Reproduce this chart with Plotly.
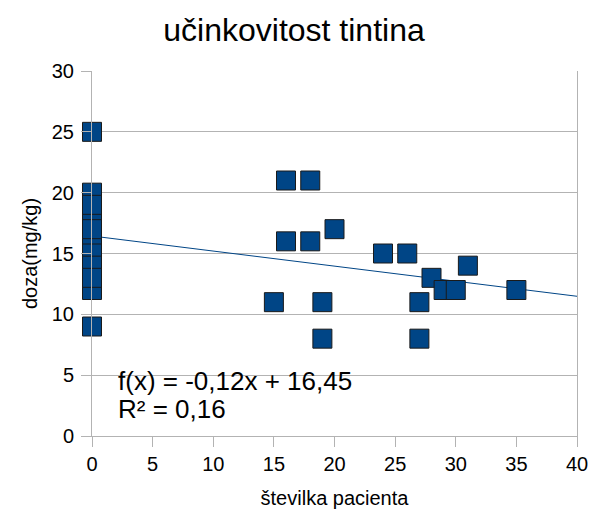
import numpy as np
import plotly.graph_objects as go

# data
patient = [0, 0, 0, 0, 0, 0, 0, 0, 0, 0, 0,
           16, 18, 16, 18, 20, 24, 26, 15, 19, 19, 27, 27, 28, 29, 30, 31, 35]
dose = [25, 9, 12, 18, 16, 20, 19, 17, 15, 14, 13,
        21, 21, 16, 16, 17, 15, 15, 11, 11, 8, 11, 8, 13, 12, 12, 14, 12]
x_ticks = [0, 5, 10, 15, 20, 25, 30, 35, 40]
y_ticks = [0, 5, 10, 15, 20, 25, 30]
title_text = "učinkovitost tintina"
x_title = "številka pacienta"
y_title = "doza(mg/kg)"
eq_text = "f(x) = -0,12x + 16,45"
r2_text = "R² = 0,16"

slope, intercept = np.polyfit(patient, dose, 1)
trend_x = [x_ticks[0], x_ticks[-1]]
trend_y = [intercept + slope * v for v in trend_x]

FONT = "Liberation Sans"
GRID = "#b3b3b3"
BLUE = "#004586"

fig = go.Figure()
fig.add_trace(go.Scatter(
    x=trend_x, y=trend_y, mode="lines",
    line=dict(color=BLUE, width=1), hoverinfo="skip", showlegend=False))
fig.add_trace(go.Scatter(
    x=patient, y=dose, mode="markers", cliponaxis=False,
    marker=dict(symbol="square", size=19, color=BLUE,
                line=dict(color="#1a1a1a", width=1)),
    showlegend=False))

ann_font = dict(family=FONT, size=26, color="black")
fig.update_layout(
    width=593, height=518,
    margin=dict(l=92, r=16, t=71, b=82, autoexpand=False),
    paper_bgcolor="white", plot_bgcolor="white",
    font=dict(family=FONT, size=20, color="black"),
    title=dict(text=title_text, x=294 / 593, xref="container", xanchor="center",
               y=1 - 30 / 518, yref="container", yanchor="middle",
               font=dict(family=FONT, size=32, color="black")),
    xaxis=dict(range=[x_ticks[0], x_ticks[-1]], tickvals=x_ticks,
               showgrid=False, zeroline=False, automargin=False,
               showline=True, linecolor=GRID, linewidth=1,
               ticks="outside", ticklen=10, tickcolor=GRID, tickwidth=1,
               tickfont=dict(size=20),
               title=dict(text=x_title, font=dict(size=20), standoff=16)),
    yaxis=dict(range=[y_ticks[0], y_ticks[-1]], tickvals=y_ticks,
               showgrid=True, gridcolor=GRID, gridwidth=1, zeroline=False,
               automargin=False,
               showline=True, mirror=True, linecolor=GRID, linewidth=1,
               ticks="outside", ticklen=10, tickcolor=GRID, tickwidth=1,
               ticklabelstandoff=3,
               tickfont=dict(size=20),
               title=dict(text=y_title, font=dict(size=20), standoff=8)),
    annotations=[
        dict(text=eq_text, xref="paper", yref="paper",
             x=(116 - 92) / 485, y=(436 - 381) / 365, xanchor="left", yanchor="middle",
             showarrow=False, font=ann_font),
        dict(text=r2_text, xref="paper", yref="paper",
             x=(116 - 92) / 485, y=(436 - 409) / 365, xanchor="left", yanchor="middle",
             showarrow=False, font=ann_font),
    ],
)

fig.write_html("out.html", config={"displayModeBar": False},
               post_script="document.body.style.margin='0';document.body.style.overflow='hidden';")
